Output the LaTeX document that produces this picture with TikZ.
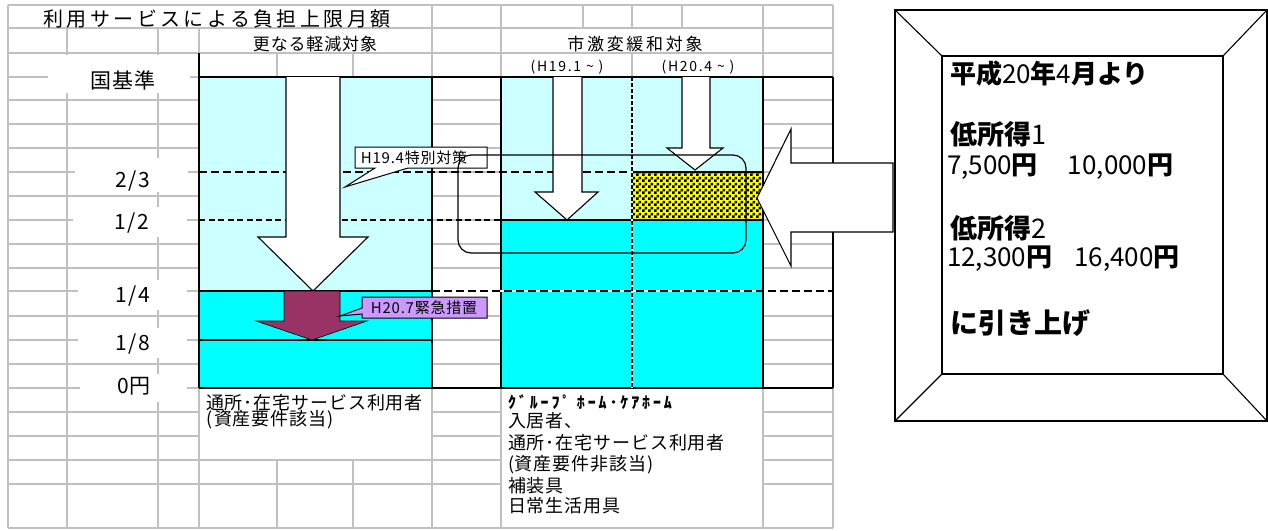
\documentclass[tikz,border=0pt]{standalone}
\usepackage{fontspec}
\setmainfont{Noto Sans CJK JP}
\usetikzlibrary{patterns}
\pgfdeclarepatternformonly{chk}{\pgfpointorigin}{\pgfqpoint{6pt}{6pt}}{\pgfqpoint{6pt}{6pt}}{%
 \pgfpathrectangle{\pgfpointorigin}{\pgfqpoint{3pt}{3pt}}%
 \pgfpathrectangle{\pgfqpoint{3pt}{3pt}}{\pgfqpoint{3pt}{3pt}}%
 \pgfusepath{fill}}
\definecolor{gridc}{HTML}{C0C0C0}
\definecolor{lcyan}{HTML}{CCFFFF}
\definecolor{dcyan}{HTML}{00FFFF}
\definecolor{maroonc}{HTML}{993366}
\definecolor{lilac}{HTML}{CC99FF}
\definecolor{yel}{HTML}{FFFF00}
\newcommand{\fsz}[1]{\fontsize{#1}{#1}\selectfont}
\newcommand{\lsp}[1]{\addfontfeatures{LetterSpace=#1}}
\begin{document}
\begin{tikzpicture}[x=1pt,y=-1pt,
  gridline/.style={draw=gridc, line width=1.6pt},
  blk/.style={draw=black, line width=1.8pt},
  arrowshape/.style={draw=black, fill=white, line width=1.1pt, line join=miter},
  cover/.style={fill=white},
  txt/.style={inner sep=0pt, outer sep=0pt, text=black},
  sidelbl/.style={txt, font={\fsz{21}\lsp{6}}},
  hdr/.style={txt, font={\fsz{17}\lsp{5}}},
  subhdr/.style={txt, font={\fsz{14}\lsp{12}}},
  btm/.style={txt, anchor=west, font={\fsz{18}\lsp{5}}},
  calltxt/.style={txt, font={\fsz{15}\lsp{5}}},
  boxtxt/.style={txt, anchor=west}
]
\useasboundingbox (0,0) rectangle (1268,530);
\fill[white] (0,0) rectangle (1268,530);

% spreadsheet grid
\foreach \y in {5,28,53,77,100,124,148,172,196,220,244,268,291,316,340,364,388,412,436,460,484,528}
  \draw[gridline] (8,\y) -- (833,\y);
\foreach \x in {8,67,158,199,277,353,432,501,583,632,682,763,833}
  \draw[gridline] (\x,5) -- (\x,528);

% merged cells
\fill[cover] (8.8,5.8) rectangle (431.2,27.2);
\fill[cover] (199.8,28.8) rectangle (431.2,52.2);
\fill[cover] (501.8,28.8) rectangle (762.2,52.2);
\fill[cover] (501.8,53.8) rectangle (631.2,76.2);
\fill[cover] (632.8,53.8) rectangle (762.2,76.2);
\fill[cover] (199.8,388.8) rectangle (431.2,459.2);
\fill[cover] (501.8,388.8) rectangle (762.2,527.2);

% label boxes covering grid
\fill[cover] (48,54.5) rectangle (190,93);
\fill[cover] (75,158) rectangle (188,192);
\fill[cover] (73,207) rectangle (187,237);
\fill[cover] (78,280) rectangle (187,310);
\fill[cover] (78,328) rectangle (187,358);
\fill[cover] (80,374) rectangle (187,402);

% chart fills
\fill[lcyan] (199,77) rectangle (432,291);
\fill[dcyan] (199,291) rectangle (432,388);
\fill[lcyan] (501,77) rectangle (763,220);
\fill[dcyan] (501,220) rectangle (763,388);
\fill[yel] (632,172) rectangle (763,220);
\fill[pattern=chk, pattern color=black] (632,172) rectangle (763,220);

% chart black lines
\draw[blk] (199,77) -- (833,77);
\draw[blk] (199,388) -- (833,388);
\draw[blk] (199,53) -- (199,388);
\draw[blk] (432,77) -- (432,388);
\draw[blk] (501,77) -- (501,388);
\draw[blk] (763,77) -- (763,388);
\draw[blk] (833,77) -- (833,388);
\draw[blk] (199,291) -- (432,291);
\draw[blk] (199,340) -- (432,340);
\draw[blk] (501,220) -- (763,220);
\draw[black, line width=1.4pt] (632,172) -- (763,172);

% dashed level lines
\draw[black, line width=2.2pt, dash pattern=on 8pt off 4pt] (199,172) -- (632,172);
\draw[black, line width=1.6pt, dash pattern=on 6pt off 3.5pt] (199,220) -- (501,220);
\draw[white, line width=2pt] (432,291) -- (833,291);
\draw[black, line width=2pt, dash pattern=on 8pt off 4pt] (432,291) -- (833,291);
% dotted divider
\draw[white, line width=2.8pt] (632,77) -- (632,388);
\draw[black, line width=2.8pt, dash pattern=on 4pt off 2pt] (632,77) -- (632,388);

% white down arrows
\draw[arrowshape] (286,77) -- (286,237) -- (258,237) -- (313,291) -- (368,237) -- (340,237) -- (340,77);
\draw[arrowshape] (553,77) -- (553,192) -- (535,192) -- (567,220) -- (598,192) -- (582,192) -- (582,77);
\draw[arrowshape] (682,77) -- (682,148) -- (667,148) -- (695,170) -- (723,148) -- (710,148) -- (710,77);

% maroon arrow
\draw[fill=maroonc, draw=black, line width=0.6pt] (284,291) -- (284,321) -- (256,321) -- (312,340) -- (367,321) -- (340,321) -- (340,291) -- cycle;

% callouts
\draw[fill=white, draw=black, line width=1pt] (355,147) -- (487,147) -- (487,168) -- (408,168) -- (345,187) -- (375,168) -- (355,168) -- cycle;
\node[calltxt] (c1) at (414,158) {H19.4特別対策};
\draw[fill=lilac, draw=black, line width=1pt] (362,297) -- (487,297) -- (487,318) -- (362,318) -- (362,314) -- (340,316) -- (362,308) -- cycle;
\node[calltxt] (c2) at (424,308) {H20.7緊急措置};

% rounded outline
\draw[black, line width=1.2pt, rounded corners=13pt] (458,155) rectangle (746,253);

% big left arrow
\draw[arrowshape] (893,163) -- (791,163) -- (791,129) -- (757,198) -- (791,266) -- (791,232) -- (893,232) -- cycle;

% bevel box
\draw[black, line width=1.3pt] (895,10) rectangle (1267,421);
\draw[black, line width=1.3pt] (942,56) rectangle (1223,374);
\draw[black, line width=1.1pt] (895,10) -- (942,56);
\draw[black, line width=1.1pt] (1267,10) -- (1223,56);
\draw[black, line width=1.1pt] (895,421) -- (942,374);
\draw[black, line width=1.1pt] (1267,421) -- (1223,374);

% titles and headers
\node[txt, font={\fsz{20}\lsp{17}}] (title) at (217,19) {利用サービスによる負担上限月額};
\node[hdr] (h1) at (315,44) {更なる軽減対象};
\node[txt, font={\fsz{17}\lsp{16}}] (h2) at (635,44) {市激変緩和対象};
\node[subhdr] (h3) at (567,67) {(H19.1 \char"007E\ )};
\node[subhdr] (h4) at (698,67) {(H20.4 \char"007E\ )};

% side labels
\node[sidelbl] (l0) at (123,80) {国基準};
\node[sidelbl] (l1) at (133,181) {2/3};
\node[sidelbl] (l2) at (132,223) {1/2};
\node[sidelbl] (l3) at (133,296) {1/4};
\node[sidelbl] (l4) at (133,344) {1/8};
\node[sidelbl] (l5) at (134,386) {0円};

% bottom labels
\node[btm] (b1) at (206,403) {通所･在宅サービス利用者};
\node[btm] (b2) at (206,420) {(\hspace{2pt}資産要件該当)};
\node[btm, font={\fsz{16}\lsp{18}\bfseries}] (g1) at (508,402) {ｸﾞﾙｰﾌﾟ ﾎｰﾑ･ｹｱﾎｰﾑ};
\node[btm] (g2) at (508,421) {入居者、};
\node[btm] (g3) at (508,443) {通所･在宅サービス利用者};
\node[btm] (g4) at (508,465) {(資産要件非該当)};
\node[btm] (g5) at (508,486) {補装具};
\node[btm] (g6) at (508,506) {日常生活用具};

% box text
\node[boxtxt, font=\fsz{26}] (t1) at (950,74) {\bfseries 平成\mdseries 20\bfseries 年\mdseries 4\bfseries 月より};
\node[boxtxt, font=\fsz{27}] (t2) at (950,134) {\bfseries 低所得\mdseries 1};
\node[boxtxt, font=\fsz{26}] (t3) at (947,167) {7,500\bfseries 円\hspace{30pt}\mdseries 10,000\bfseries 円};
\node[boxtxt, font=\fsz{27}] (t4) at (950,228) {\bfseries 低所得\mdseries 2};
\node[boxtxt, font=\fsz{26}] (t5) at (947,259) {12,300\bfseries 円\hspace{22pt}\mdseries 16,400\bfseries 円};
\node[boxtxt, font=\fsz{28}] (t6) at (950,323) {\bfseries に引き上げ};
\end{tikzpicture}
\end{document}
